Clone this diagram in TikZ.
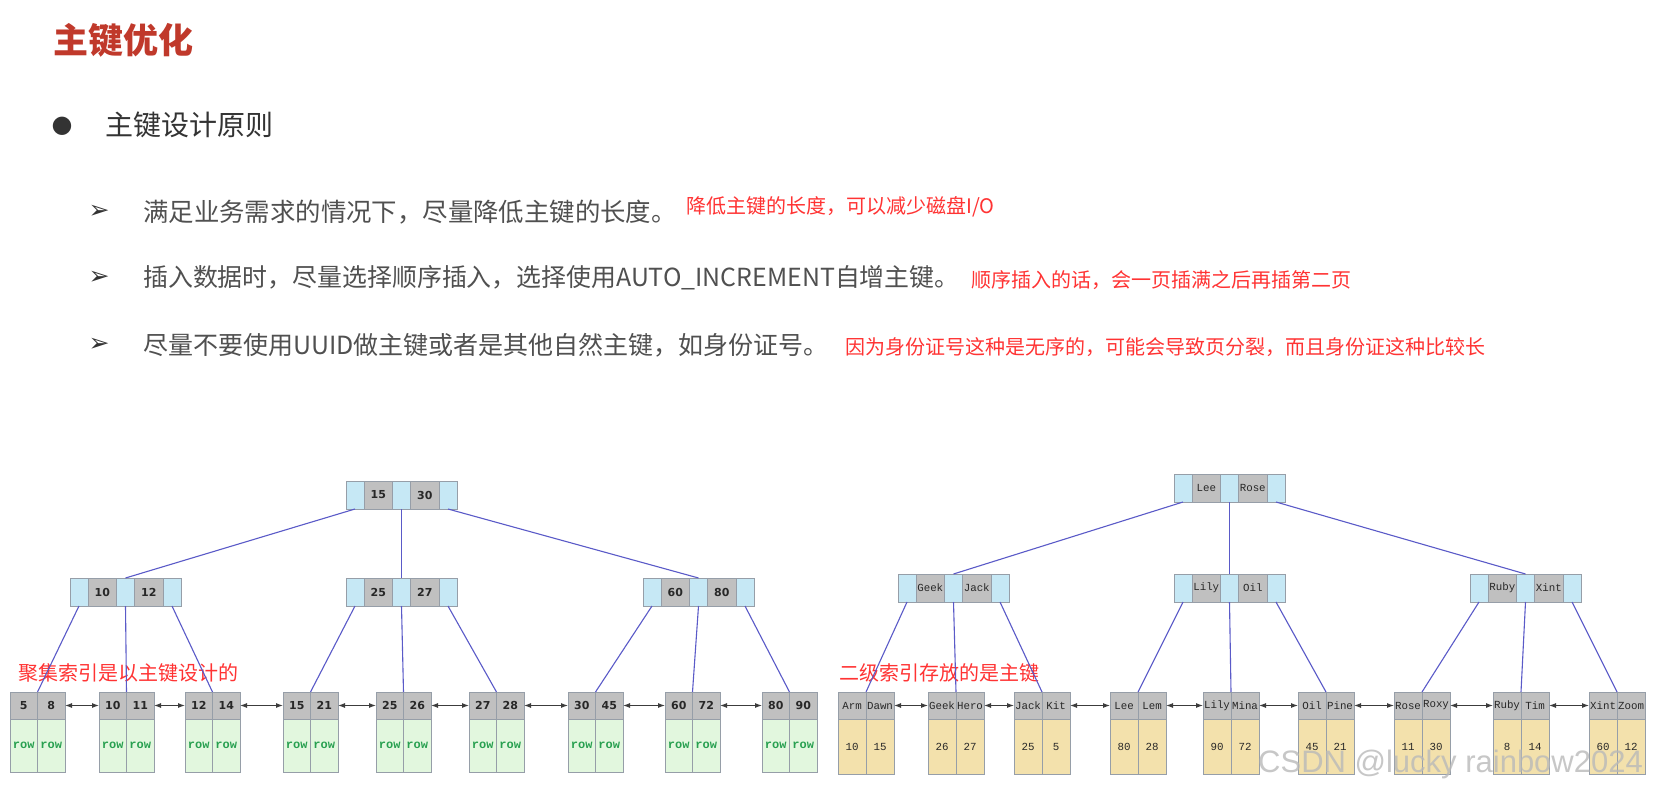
\documentclass[tikz,border=0pt]{standalone}
\usepackage{fontspec}
\usepackage{tikz}
\usetikzlibrary{positioning,arrows.meta}
\newfontfamily\cjk{Noto Sans CJK SC}
\newfontfamily\dingfont{DejaVu Sans}
\newfontfamily\numfont{DejaVu Sans}
\newfontfamily\codefont{Liberation Mono}
\newfontfamily\markfont{Liberation Sans}
\definecolor{titlered}{RGB}{192,57,43}
\definecolor{headdark}{RGB}{51,51,51}
\definecolor{itemgray}{RGB}{80,80,80}
\definecolor{notered}{RGB}{255,51,51}
\definecolor{ptrblue}{RGB}{198,232,245}
\definecolor{keygray}{RGB}{192,192,192}
\definecolor{cellline}{RGB}{150,158,168}
\definecolor{rowgreen}{RGB}{226,247,222}
\definecolor{rowtext}{RGB}{40,160,80}
\definecolor{valtan}{RGB}{243,225,172}
\definecolor{txtdark}{RGB}{40,40,40}
\definecolor{linkblue}{RGB}{90,90,200}
\definecolor{arrowgray}{RGB}{60,60,60}
\tikzset{>={Latex[length=7pt,width=5pt]}}
\tikzset{
  cell/.style={draw=cellline, line width=0.8pt, inner sep=0pt, outer sep=0pt},
  ptr/.style={cell, fill=ptrblue, minimum width=18pt, minimum height=28pt},
  numkey/.style={cell, fill=keygray, minimum width=28.5pt, minimum height=28pt, text=txtdark,
    font=\numfont\bfseries\fontsize{11}{11}\selectfont},
  namekey/.style={cell, fill=keygray, minimum width=28.5pt, minimum height=28pt, text=txtdark,
    font=\codefont\fontsize{10.8}{11}\selectfont},
  leafnum/.style={cell, fill=keygray, minimum width=27.5pt, minimum height=27pt, text=txtdark,
    font=\numfont\bfseries\fontsize{11}{11}\selectfont},
  leafname/.style={cell, fill=keygray, minimum width=28pt, minimum height=27pt, text=txtdark,
    font=\codefont\fontsize{10.8}{11}\selectfont},
  rowcell/.style={cell, fill=rowgreen, minimum width=27.5pt, minimum height=53pt, text=rowtext,
    font=\codefont\bfseries\fontsize{12}{12}\selectfont},
  valcell/.style={cell, fill=valtan, minimum width=28pt, minimum height=55pt, text=txtdark,
    font=\codefont\fontsize{10.8}{11}\selectfont},
  link/.style={draw=linkblue, line width=1.1pt},
  sib/.style={draw=arrowgray, line width=1pt, <->},
  title/.style={anchor=west, inner sep=0pt, text=titlered, font=\cjk\bfseries\fontsize{35}{38}\selectfont},
  head/.style={anchor=west, inner sep=0pt, text=headdark, font=\cjk\fontsize{28}{30}\selectfont},
  dot/.style={inner sep=0pt, text=headdark, font=\dingfont\fontsize{24}{24}\selectfont},
  tick/.style={inner sep=0pt, text=headdark, font=\dingfont\fontsize{25}{25}\selectfont},
  item/.style={anchor=west, inner sep=0pt, text=itemgray, font=\cjk\fontsize{25.4}{27}\selectfont},
  note/.style={anchor=west, inner sep=0pt, text=notered, font=\cjk\fontsize{20}{22}\selectfont}
}
% inner page: name, position, key1, key2, key style
\def\treenode#1#2#3#4#5{%
  \node[ptr, anchor=north west] (#1-p1) at (#2) {};
  \node[#5, right=0pt of #1-p1] (#1-k1) {#3};
  \node[ptr, right=0pt of #1-k1] (#1-p2) {};
  \node[#5, right=0pt of #1-p2] (#1-k2) {#4};
  \node[ptr, right=0pt of #1-k2] (#1-p3) {};}
% leaf page: name, x, key1, key2, val1, val2, key style, value style
\def\leafpage#1#2#3#4#5#6#7#8{%
  \node[#7, anchor=north west] (#1-k1) at (#2,692) {#3};
  \node[#7, right=0pt of #1-k1] (#1-k2) {#4};
  \node[#8, below=0pt of #1-k1] (#1-v1) {#5};
  \node[#8, below=0pt of #1-k2] (#1-v2) {#6};}

\begin{document}
\begin{tikzpicture}[x=1pt, y=-1pt]
  \fill[white] (0,0) rectangle (1656,795);
  \useasboundingbox (0,0) rectangle (1656,795);

  \node[title] (ttl) at (53,40) {主键优化};
  \node[dot] (bul) at (62,126) {●};
  \node[head] (hd) at (105,125) {主键设计原则};

  \node[tick] (t1) at (99,212) {➢};
  \node[tick] (t2) at (99,278) {➢};
  \node[tick] (t3) at (99,345) {➢};
  \node[item] (i1) at (143,212) {满足业务需求的情况下，尽量降低主键的长度。};
  \node[item, font=\cjk\fontsize{24.9}{27}\selectfont] (i2) at (143,278) {插入数据时，尽量选择顺序插入，选择使用AUTO\_INCREMENT自增主键。};
  \node[item, font=\cjk\fontsize{25}{27}\selectfont] (i3) at (143,345) {尽量不要使用UUID做主键或者是其他自然主键，如身份证号。};
  \node[note] (n1) at (686,207) {降低主键的长度，可以减少磁盘I/O};
  \node[note] (n2) at (971,280) {顺序插入的话，会一页插满之后再插第二页};
  \node[note] (n3) at (845,347) {因为身份证号这种是无序的，可能会导致页分裂，而且身份证这种比较长};

  % clustered index
  \treenode{lroot}{346,481}{15}{30}{numkey}
  \treenode{l10}{70,578}{10}{12}{numkey}
  \treenode{l25}{346,578}{25}{27}{numkey}
  \treenode{l60}{643,578}{60}{80}{numkey}
  \leafpage{la}{10}{5}{8}{row}{row}{leafnum}{rowcell}
  \leafpage{lb}{99}{10}{11}{row}{row}{leafnum}{rowcell}
  \leafpage{lc}{185}{12}{14}{row}{row}{leafnum}{rowcell}
  \leafpage{ld}{283}{15}{21}{row}{row}{leafnum}{rowcell}
  \leafpage{le}{376}{25}{26}{row}{row}{leafnum}{rowcell}
  \leafpage{lf}{469}{27}{28}{row}{row}{leafnum}{rowcell}
  \leafpage{lg}{568}{30}{45}{row}{row}{leafnum}{rowcell}
  \leafpage{lh}{665}{60}{72}{row}{row}{leafnum}{rowcell}
  \leafpage{li}{762}{80}{90}{row}{row}{leafnum}{rowcell}
  \node[note] (cl) at (18,673) {聚集索引是以主键设计的};

  \path[link] (lroot-p1.south) edge (l10-p2.north);
  \path[link] (lroot-p2.south) edge (l25-p2.north);
  \path[link] (lroot-p3.south) edge (l60-p2.north);
  \path[link] (l10-p1.south) edge (la-k1.north east);
  \path[link] (l10-p2.south) edge (lb-k1.north east);
  \path[link] (l10-p3.south) edge (lc-k1.north east);
  \path[link] (l25-p1.south) edge (ld-k1.north east);
  \path[link] (l25-p2.south) edge (le-k1.north east);
  \path[link] (l25-p3.south) edge (lf-k1.north east);
  \path[link] (l60-p1.south) edge (lg-k1.north east);
  \path[link] (l60-p2.south) edge (lh-k1.north east);
  \path[link] (l60-p3.south) edge (li-k1.north east);

  \path (la-k2.east) edge[sib] (lb-k1.west);
  \path (lb-k2.east) edge[sib] (lc-k1.west);
  \path (lc-k2.east) edge[sib] (ld-k1.west);
  \path (ld-k2.east) edge[sib] (le-k1.west);
  \path (le-k2.east) edge[sib] (lf-k1.west);
  \path (lf-k2.east) edge[sib] (lg-k1.west);
  \path (lg-k2.east) edge[sib] (lh-k1.west);
  \path (lh-k2.east) edge[sib] (li-k1.west);

  % secondary index
  \treenode{rroot}{1174,474}{Lee}{Rose}{namekey}
  \treenode{rgeek}{898,574}{Geek}{Jack}{namekey}
  \treenode{rlily}{1174,574}{Lily}{Oil}{namekey}
  \treenode{rruby}{1470,574}{Ruby}{Xint}{namekey}
  \leafpage{ra}{838}{Arm}{Dawn}{10}{15}{leafname}{valcell}
  \leafpage{rb}{928}{Geek}{Hero}{26}{27}{leafname}{valcell}
  \leafpage{rc}{1014}{Jack}{Kit}{25}{5}{leafname}{valcell}
  \leafpage{rd}{1110}{Lee}{Lem}{80}{28}{leafname}{valcell}
  \leafpage{re}{1203}{Lily}{Mina}{90}{72}{leafname}{valcell}
  \leafpage{rf}{1298}{Oil}{Pine}{45}{21}{leafname}{valcell}
  \leafpage{rg}{1394}{Rose}{Roxy}{11}{30}{leafname}{valcell}
  \leafpage{rh}{1493}{Ruby}{Tim}{8}{14}{leafname}{valcell}
  \leafpage{ri}{1589}{Xint}{Zoom}{60}{12}{leafname}{valcell}
  \node[note] (sc) at (839,673) {二级索引存放的是主键};

  \path[link] (rroot-p1.south) edge (rgeek-p2.north);
  \path[link] (rroot-p2.south) edge (rlily-p2.north);
  \path[link] (rroot-p3.south) edge (rruby-p2.north);
  \path[link] (rgeek-p1.south) edge (ra-k1.north east);
  \path[link] (rgeek-p2.south) edge (rb-k1.north east);
  \path[link] (rgeek-p3.south) edge (rc-k1.north east);
  \path[link] (rlily-p1.south) edge (rd-k1.north east);
  \path[link] (rlily-p2.south) edge (re-k1.north east);
  \path[link] (rlily-p3.south) edge (rf-k1.north east);
  \path[link] (rruby-p1.south) edge (rg-k1.north east);
  \path[link] (rruby-p2.south) edge (rh-k1.north east);
  \path[link] (rruby-p3.south) edge (ri-k1.north east);

  \path (ra-k2.east) edge[sib] (rb-k1.west);
  \path (rb-k2.east) edge[sib] (rc-k1.west);
  \path (rc-k2.east) edge[sib] (rd-k1.west);
  \path (rd-k2.east) edge[sib] (re-k1.west);
  \path (re-k2.east) edge[sib] (rf-k1.west);
  \path (rf-k2.east) edge[sib] (rg-k1.west);
  \path (rg-k2.east) edge[sib] (rh-k1.west);
  \path (rh-k2.east) edge[sib] (ri-k1.west);

  \node[anchor=west, inner sep=0pt, text=gray!55, opacity=0.8,
    font=\markfont\fontsize{31}{31}\selectfont] (wm) at (1258,764) {CSDN @lucky rainbow2024};
\end{tikzpicture}
\end{document}
